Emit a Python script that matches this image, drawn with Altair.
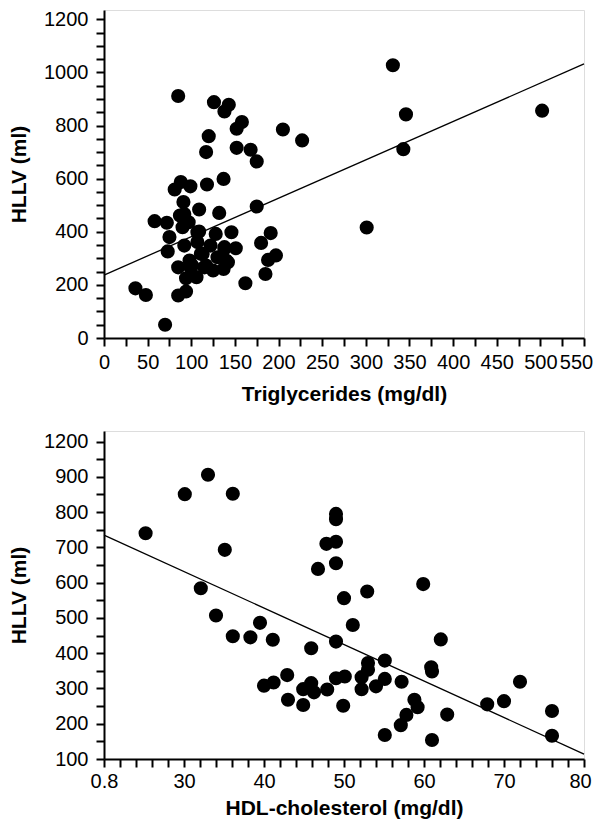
import altair as alt
import pandas as pd

# ---- Triglycerides vs HLLV (top panel) ----
tg_x = [85, 126, 143, 138, 158, 152, 205, 120, 117, 152, 168, 175, 137, 118, 99, 88, 81, 91, 175, 227,
        331, 346, 343, 301, 502,
        109, 132, 58, 72, 87, 97, 90, 107, 128, 146, 75, 191, 180, 73, 92, 122, 138, 151, 111, 130,
        142, 197, 188, 85, 101, 117, 125, 137, 94, 106, 185, 162, 36, 48, 85, 94, 70,
        92, 109, 107, 113, 138, 140, 98, 115, 99]
tg_y = [911, 888, 878, 853, 813, 788, 785, 760, 700, 716, 709, 665, 599, 578, 571, 587, 559, 512, 495, 744,
        1027, 842, 711, 416, 856,
        484, 471, 440, 434, 461, 436, 417, 398, 392, 398, 380, 395, 358, 326, 348, 348, 342, 338, 317, 304,
        285, 311, 294, 266, 273, 273, 254, 260, 225, 229, 241, 206, 187, 162, 160, 175, 50,
        467, 401, 361, 317, 336, 292, 292, 266, 266]
tg_fit_x = [0, 550]
tg_fit_y = [237, 1032]

# ---- HDL-cholesterol vs HLLV (bottom panel) ----
hdl_x = [25.2, 30.1, 33, 36.1, 35.1, 32.1, 34, 36.1, 38.3, 39.5, 41.1, 40, 41.2, 42.9, 43,
         49, 49, 47.8, 49, 49, 46.75, 50, 52.9, 59.9, 51.1, 49, 45.9, 62.1, 53, 53, 55.1, 60.9, 61,
         49, 50.1, 52.2, 52.2, 54, 55.1, 57.2, 44.9, 45.9, 46.25, 47.9, 44.9, 49.9, 58.8, 59.2, 57.8,
         57.1, 55.1, 61, 62.9, 67.9, 70, 72, 76, 76]
hdl_y = [740, 851, 906, 852, 693, 584, 507, 448, 445, 486, 438, 308, 317, 338, 268,
         795, 780, 710, 716, 655, 639, 556, 575, 596, 480, 433, 414, 439, 372, 353, 379, 360, 348,
         329, 334, 332, 298, 306, 327, 319, 298, 315, 289, 297, 253, 251, 268, 247, 225,
         196, 168, 154, 226, 255, 264, 319, 236, 166]
hdl_fit_x = [20, 80]
hdl_fit_y = [735, 114]

# tick lists
tg_xticks = list(range(0, 551, 25))
tg_yticks = list(range(0, 1201, 50))
hdl_xticks = list(range(20, 81, 2))
hdl_yticks = list(range(100, 1001, 50))

FONT = "Liberation Sans"


def make_axis(title, values, expr, label_pad, title_pad, last=None, nudge=0):
    extra = {}
    if last is not None:
        extra["labelOffset"] = {"condition": {"test": "datum.value == %d" % last, "value": nudge},
                                "value": 0}
    return alt.Axis(
        title=title, values=values, labelExpr=expr, format="d",
        grid=False, domainColor="black", domainWidth=2,
        tickColor="black", tickWidth=2, tickSize=8,
        labelFont=FONT, labelFontSize=20, labelColor="black", labelPadding=label_pad,
        labelOverlap=False, labelFlush=False,
        titleFont=FONT, titleFontSize=21, titleFontWeight="bold", titleColor="black",
        titlePadding=title_pad, **extra,
    )


tg_df = pd.DataFrame({"x": tg_x, "y": tg_y})
tg_fit = pd.DataFrame({"x": tg_fit_x, "y": tg_fit_y})
hdl_df = pd.DataFrame({"x": hdl_x, "y": hdl_y})
hdl_fit = pd.DataFrame({"x": hdl_fit_x, "y": hdl_fit_y})

tg_xs = alt.Scale(domain=[0, 550], nice=False, zero=False)
tg_ys = alt.Scale(domain=[0, 1235], nice=False, zero=False)
hdl_xs = alt.Scale(domain=[20, 80], nice=False, zero=False)
hdl_ys = alt.Scale(domain=[100, 1030], nice=False, zero=False)

tg_xaxis = make_axis("Triglycerides (mg/dl)", tg_xticks,
                     "datum.value % 50 == 0 ? datum.label : ''", 6, 11, last=550, nudge=-8)
tg_yaxis = make_axis("HLLV (ml)", tg_yticks,
                     "datum.value % 200 == 0 ? datum.label : ''", 8, 14)
hdl_xaxis = make_axis("HDL-cholesterol (mg/dl)", hdl_xticks,
                      "datum.value == 20 ? '0.8' : (datum.value % 10 == 0 ? datum.label : '')", 4, 6,
                      last=80, nudge=-4)
hdl_yaxis = make_axis("HLLV (ml)", hdl_yticks,
                      "datum.value == 1000 ? '1200' : (datum.value % 100 == 0 ? datum.label : '')", 8, 14)


def panel(pts_df, fit_df, xs, ys, xaxis, yaxis):
    base_x = alt.X("x:Q", scale=xs, axis=xaxis)
    base_y = alt.Y("y:Q", scale=ys, axis=yaxis)
    line = alt.Chart(fit_df).mark_line(color="black", strokeWidth=1.3).encode(x=base_x, y=base_y)
    pts = alt.Chart(pts_df).mark_circle(size=200, color="black", opacity=1).encode(x=base_x, y=base_y)
    return alt.layer(line, pts).properties(width=480, height=328)


top = panel(tg_df, tg_fit, tg_xs, tg_ys, tg_xaxis, tg_yaxis)
bot = panel(hdl_df, hdl_fit, hdl_xs, hdl_ys, hdl_xaxis, hdl_yaxis)

chart = alt.vconcat(top, bot, spacing=25).properties(
    padding={"top": 0, "left": 0, "right": 0, "bottom": 0}
).configure_view(stroke=None).configure(background="white")

chart.save("out.html", embed_options={"renderer": "svg", "actions": False})
